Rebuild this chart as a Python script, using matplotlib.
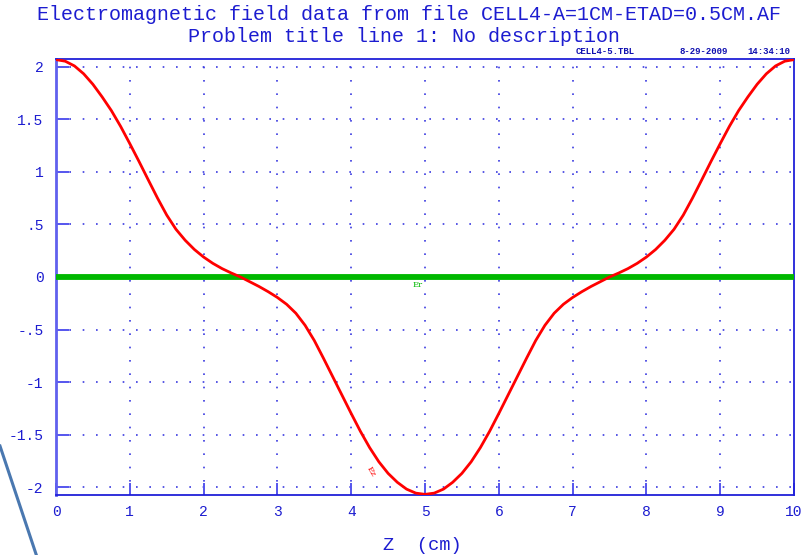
import matplotlib
matplotlib.use("Agg")
import matplotlib.pyplot as plt
from matplotlib.lines import Line2D

# Ez on axis vs z (cm), one full cell, sampled every 1/8 cm
z = [0.000, 0.125, 0.250, 0.375, 0.500, 0.625, 0.750, 0.875,
     1.000, 1.125, 1.250, 1.375, 1.500, 1.625, 1.750, 1.875,
     2.000, 2.125, 2.250, 2.375, 2.500, 2.625, 2.750, 2.875,
     3.000, 3.125, 3.250, 3.375, 3.500, 3.625, 3.750, 3.875,
     4.000, 4.125, 4.250, 4.375, 4.500, 4.625, 4.750, 4.875,
     5.000, 5.125, 5.250, 5.375, 5.500, 5.625, 5.750, 5.875,
     6.000, 6.125, 6.250, 6.375, 6.500, 6.625, 6.750, 6.875,
     7.000, 7.125, 7.250, 7.375, 7.500, 7.625, 7.750, 7.875,
     8.000, 8.125, 8.250, 8.375, 8.500, 8.625, 8.750, 8.875,
     9.000, 9.125, 9.250, 9.375, 9.500, 9.625, 9.750, 9.875,
     10.000]
ez = [2.070, 2.055, 2.010, 1.935, 1.835, 1.715, 1.585, 1.435,
      1.270, 1.100, 0.925, 0.752, 0.590, 0.455, 0.350, 0.262,
      0.190, 0.130, 0.080, 0.038, 0.000, -0.045, -0.090, -0.140,
      -0.195, -0.260, -0.345, -0.460, -0.605, -0.775, -0.950, -1.125,
      -1.300, -1.470, -1.625, -1.760, -1.870, -1.955, -2.020, -2.058,
      -2.070, -2.058, -2.020, -1.955, -1.870, -1.760, -1.625, -1.470,
      -1.300, -1.125, -0.950, -0.775, -0.605, -0.460, -0.345, -0.260,
      -0.195, -0.140, -0.090, -0.045, 0.000, 0.038, 0.080, 0.130,
      0.190, 0.262, 0.350, 0.455, 0.590, 0.752, 0.925, 1.100,
      1.270, 1.435, 1.585, 1.715, 1.835, 1.935, 2.010, 2.055,
      2.070]
er = [0.0] * len(z)

xticks = [0, 1, 2, 3, 4, 5, 6, 7, 8, 9, 10]
yticks = [2, 1.5, 1, 0.5, 0, -0.5, -1, -1.5, -2]
ylabels = ["2", "1.5", "1", ".5", "0", "-.5", "-1", "-1.5", "-2"]

blue = "#1c1cd0"
grid_blue = "#3a3ae0"
mono = "Liberation Mono"

fig = plt.figure(figsize=(8.07, 5.55), dpi=100)
ax = fig.add_axes([56 / 807, 1 - 495 / 555, 738 / 807, 436 / 555])

ax.plot(z, er, color="#00b800", lw=4.2, zorder=3)
ax.plot(z, ez, color="#ff0000", lw=2.0, zorder=4, solid_capstyle="round",
        solid_joinstyle="round")

ax.set_xlim(0, 10)
ax.set_ylim(-2.076, 2.076)

# dotted grid
for x in xticks[1:-1]:
    ax.axvline(x, color=grid_blue, lw=1.2, ls=(0, (1, 7)), zorder=1)
for y in yticks:
    ax.axhline(y, color=grid_blue, lw=1.2, ls=(0, (1, 7)), zorder=1)

ax.set_xticks(xticks)
ax.set_xticklabels([str(t) for t in xticks])
ax.set_yticks(yticks)
ax.set_yticklabels(ylabels)
ax.tick_params(axis="both", direction="in", length=9, width=1.4,
               color="#5555ee", labelcolor=blue, labelsize=10.5)
ax.tick_params(axis="x", pad=7)
ax.tick_params(axis="y", pad=9)
for lab in ax.get_xticklabels() + ax.get_yticklabels():
    lab.set_fontfamily(mono)

for side in ["top", "right", "bottom"]:
    ax.spines[side].set_color("#2020d8")
    ax.spines[side].set_linewidth(1.3)
ax.spines["left"].set_color("#6060ee")
ax.spines["left"].set_linewidth(2.0)

# curve labels
ax.text(4.9, -0.08, "Er", color="#00b800", fontsize=6, family="DejaVu Serif",
        ha="center", va="center")
ax.text(4.27, -1.85, "Ez", color="#ff0000", fontsize=6, family="DejaVu Serif",
        ha="center", va="center", rotation=-60)

fig.text(422 / 807, 1 - 546 / 555, "Z  (cm)", color=blue, fontsize=13.5,
         family=mono, ha="center", va="center")

fig.text(409 / 807, 1 - 14 / 555, "Electromagnetic field data from file CELL4-A=1CM-ETAD=0.5CM.AF",
         color=blue, fontsize=14.4, family=mono, ha="center", va="center")
fig.text(404 / 807, 1 - 36 / 555, "Problem title line 1: No description",
         color=blue, fontsize=14.4, family=mono, ha="center", va="center")

fig.text(605 / 807, 1 - 52 / 555, "CELL4-5.TBL", color="#1010b0", fontsize=6.5,
         family=mono, weight="bold", ha="center", va="center")
fig.text(704 / 807, 1 - 52 / 555, "8-29-2009", color="#1010b0", fontsize=6.5,
         family=mono, weight="bold", ha="center", va="center")
fig.text(769 / 807, 1 - 52 / 555, "14:34:10", color="#1010b0", fontsize=6.5,
         family=mono, weight="bold", ha="center", va="center")

# stray pointer line at lower left
fig.add_artist(Line2D([0 / 807, 37 / 807], [1 - 446 / 555, 1 - 557 / 555],
                      color="#4a78b0", lw=2.2))

fig.savefig("out.png", dpi=100)
